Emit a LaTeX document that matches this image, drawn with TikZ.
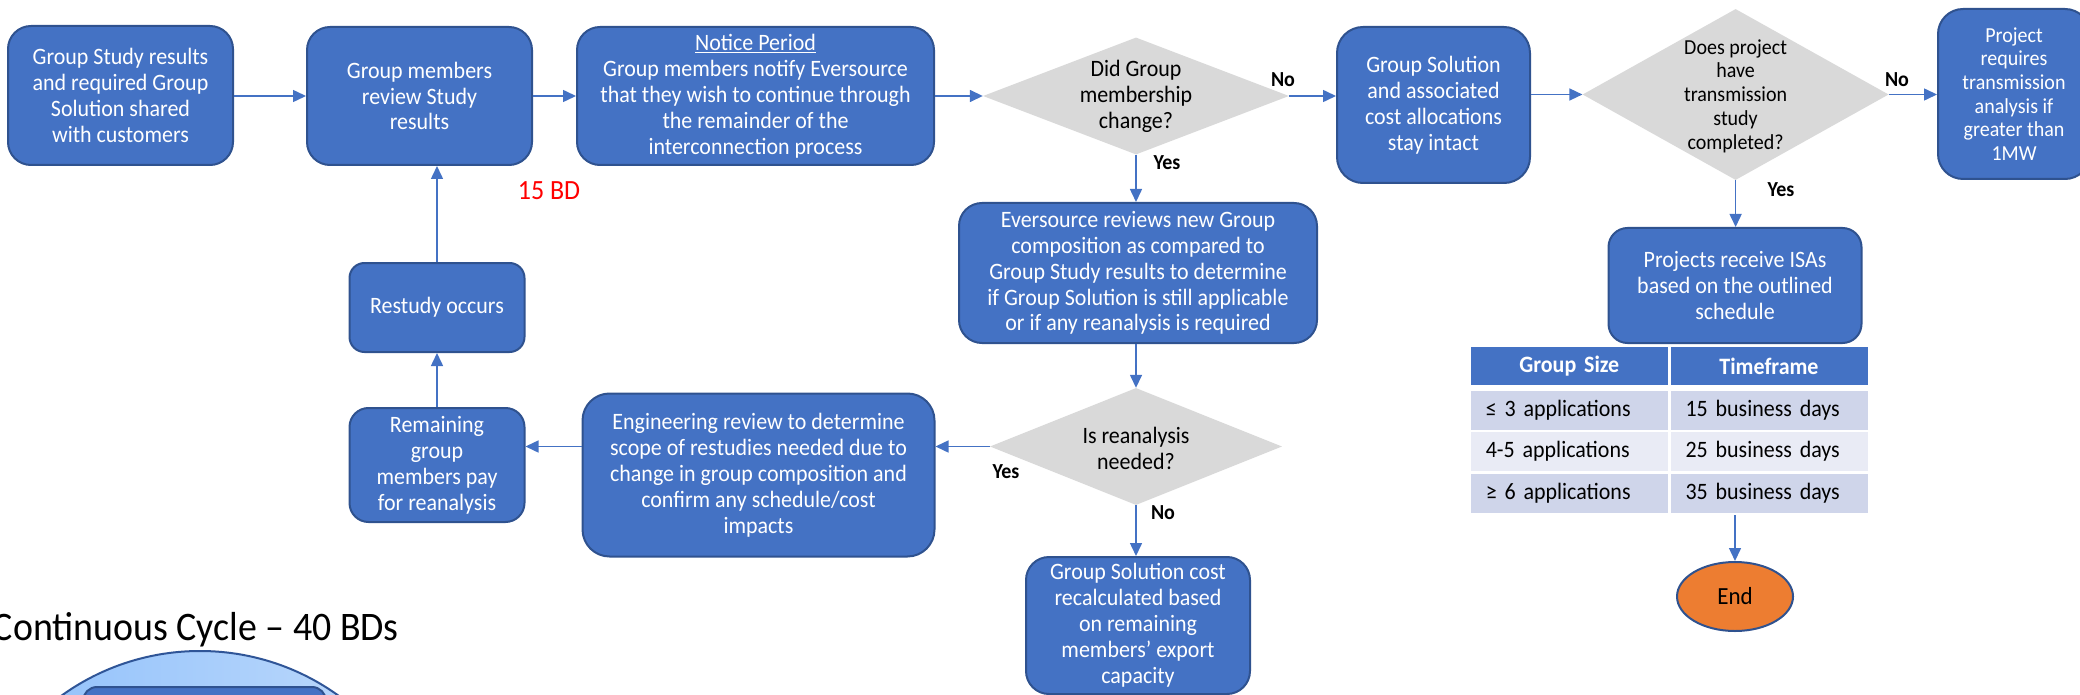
\documentclass[tikz,border=0pt]{standalone}
\usepackage{fontspec}
\setmainfont{Carlito}[FakeStretch=0.935]
\usetikzlibrary{arrows.meta,shapes.geometric,calc}
\definecolor{boxblue}{HTML}{4472C4}
\definecolor{boxedge}{HTML}{2F528F}
\definecolor{dgray}{HTML}{D9D9D9}
\definecolor{rowa}{HTML}{CFD5EA}
\definecolor{rowb}{HTML}{E9EBF5}
\definecolor{endorange}{HTML}{ED7D31}
\definecolor{circedge}{HTML}{2F5597}
\definecolor{cycleL}{RGB}{140,190,250}
\definecolor{cycleR}{RGB}{194,220,252}
\begin{document}
\begin{tikzpicture}[x=1pt,y=-1pt,
  proc/.style={rectangle, rounded corners=#1, fill=boxblue, draw=boxedge, line width=2pt,
    text=white, align=center, inner sep=0pt, font=\fontsize{23.5}{25.9}\selectfont},
  proc/.default=22pt,
  dshape/.style={diamond, fill=dgray, draw=none, inner sep=0pt},
  dtext/.style={align=center, inner sep=0pt, text=black, font=\fontsize{23.5}{25.9}\selectfont},
  lab/.style={inner sep=0pt, text=black, font=\bfseries\fontsize{21.4}{24}\selectfont},
  arr/.style={draw=boxblue, line width=1.5pt, -{Triangle[length=13pt,width=12pt]}},
  tcell/.style={rectangle, anchor=north west, inner xsep=15pt, inner ysep=0pt, text width=167pt,
    font=\fontsize{23.5}{25.9}\selectfont, align=left, text=black},
  hcell/.style={tcell, fill=boxblue, text=white, align=center, font=\bfseries\fontsize{23.5}{25.9}\selectfont}
]
\useasboundingbox (0,0) rectangle (2080,695);
\clip (0,0) rectangle (2080,695);

% top row
\node[proc=23pt, minimum width=225pt, minimum height=139pt] (A) at (120.5,95.5)
  {Group Study results\\and required Group\\Solution shared\\with customers};
\node[proc=23pt, minimum width=225pt, minimum height=138pt] (B) at (419.5,96)
  {Group members\\review Study\\results};
\node[proc=23pt, minimum width=357pt, minimum height=138pt] (C) at (755.5,96)
  {\underline{Notice Period}\\Group members notify Eversource\\that they wish to continue through\\the remainder of the\\interconnection process};
\node[dshape, minimum width=306pt, minimum height=117pt] (D1) at (1136,96) {};
\node[dtext] (D1t) at (D1.center) {Did Group\\membership\\change?};
\node[proc=26pt, minimum width=193pt, minimum height=156pt] (E) at (1433.5,105)
  {Group Solution\\and associated\\cost allocations\\stay intact};
\node[dshape, minimum width=306pt, minimum height=171pt] (D2) at (1735.6,94.5) {};
\node[dtext, font=\fontsize{21.4}{23.8}\selectfont] (D2t) at ($(D2.center)+(0,1.5)$)
  {Does project\\have\\transmission\\study\\completed?};
\node[proc=25pt, minimum width=152pt, minimum height=170pt, font=\fontsize{21.4}{23.7}\selectfont] (F) at (2014,94)
  {Project\\requires\\transmission\\analysis if\\greater than\\1MW};

% middle column
\node[proc=23pt, minimum width=358pt, minimum height=140pt] (H) at (1138,273)
  {Eversource reviews new Group\\composition as compared to\\Group Study results to determine\\if Group Solution is still applicable\\or if any reanalysis is required};
\node[dshape, minimum width=292pt, minimum height=117pt] (D3) at (1136,446.5) {};
\node[dtext] (D3t) at ($(D3.center)+(0,1.5)$) {Is reanalysis\\needed?};
\node[proc=23pt, minimum width=224pt, minimum height=137pt] (I) at (1138,625.5)
  {Group Solution cost\\recalculated based\\on remaining\\members’ export\\capacity};
\node[proc=27pt, minimum width=352pt, minimum height=163pt] (J) at (758.5,475)
  {Engineering review to determine\\scope of restudies needed due to\\change in group composition and\\confirm any schedule/cost\\impacts};
\node[proc=19pt, minimum width=175pt, minimum height=114pt] (K) at (437,465)
  {Remaining\\group\\members pay\\for reanalysis};
\node[proc=15pt, minimum width=175pt, minimum height=89pt] (L) at (437,307.5)
  {Restudy occurs};

% right column
\node[proc=19pt, minimum width=253pt, minimum height=115pt] (G) at (1735,285.5)
  {Projects receive ISAs\\based on the outlined\\schedule};
\node[hcell, minimum height=37.5pt] (h1) at (1470.6,347) {Group Size};
\node[hcell, minimum height=37.5pt] (h2) at (1670.3,347) {Timeframe};
\node[tcell, fill=rowa, minimum height=39pt] (r11) at (1470.6,390.5) {≤ 3 applications};
\node[tcell, fill=rowa, minimum height=39pt] (r12) at (1670.3,390.5) {15 business days};
\node[tcell, fill=rowb, minimum height=39pt] (r21) at (1470.6,432) {4-5 applications};
\node[tcell, fill=rowb, minimum height=39pt] (r22) at (1670.3,432) {25 business days};
\node[tcell, fill=rowa, minimum height=39.5pt] (r31) at (1470.6,473.5) {≥ 6 applications};
\node[tcell, fill=rowa, minimum height=39.5pt] (r32) at (1670.3,473.5) {35 business days};
\node[ellipse, fill=endorange, draw=boxedge, line width=2pt, minimum width=116pt, minimum height=69pt,
  inner sep=0pt, font=\fontsize{24.6}{27}\selectfont] (End) at (1735,596.5) {End};

% texts
\node[text=red, inner sep=0pt, font=\fontsize{27.8}{30}\selectfont] (bd) at (549,191) {15 BD};
\node[anchor=base east, inner sep=0pt, font=\fontsize{40.5}{45}\selectfont] (cyc) at (399,640)
  {Continuous Cycle – 40 BDs};
\node[circle, minimum size=474pt, inner sep=0pt, left color=cycleL, right color=cycleR,
  draw=circedge, line width=2pt] (circ) at (200,888) {};
\node[rectangle, rounded corners=14pt, fill=boxblue, draw=boxedge, line width=2pt,
  minimum width=243pt, minimum height=80pt, anchor=north west] (inner) at (82,686) {};

% connectors
\draw[arr] (A.east |- B.west) -- (B.west);
\draw[arr] (B.east) -- (C.west);
\draw[arr] (C.east) -- (D1.west);
\draw[arr] (D1.east) -- (D1.east -| E.west);
\draw[arr] (D2.west -| E.east) -- (D2.west);
\draw[arr] (D2.east) -- (D2.east -| F.west);
\draw[arr] (D1.south) -- (D1.south |- H.north);
\draw[arr] (D3.north |- H.south) -- (D3.north);
\draw[arr] (D3.west) -- (D3.west -| J.east);
\draw[arr] (J.west |- D3.west) -- (K.east |- D3.west);
\draw[arr] (K.north) -- (L.south);
\draw[arr] (L.north) -- (L.north |- B.south);
\draw[arr] (D3.south) -- (D3.south |- I.north);
\draw[arr] (D2.south) -- (D2.south |- G.north);
\draw[arr] ($(End.north |- r32.south)+(0,2)$) -- (End.north);

% decision labels
\node[lab] (no1) at (1283,80) {No};
\node[lab] (yes1) at (1167,163) {Yes};
\node[lab] (no2) at (1897,80) {No};
\node[lab] (yes2) at (1781,190) {Yes};
\node[lab] (yes3) at (1006,472) {Yes};
\node[lab] (no3) at (1163,513) {No};
\end{tikzpicture}
\end{document}
